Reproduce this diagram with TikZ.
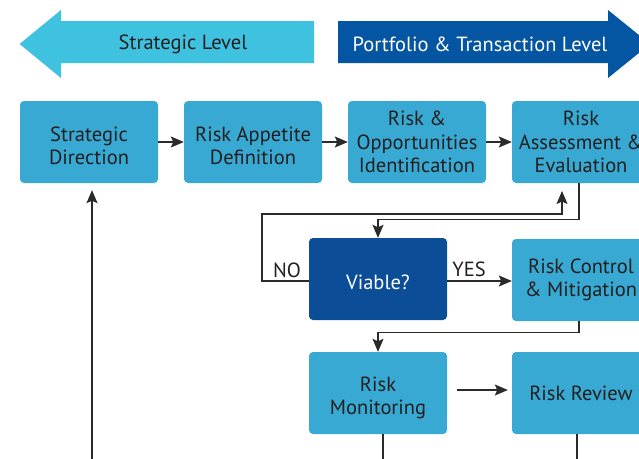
\documentclass[tikz,border=0pt]{standalone}
\usepackage{fontspec}
\setmainfont{PT Sans}
\usetikzlibrary{arrows.meta}
\definecolor{boxblue}{HTML}{38A9D3}
\definecolor{lightarrow}{HTML}{3EC2DF}
\definecolor{darkarrow}{HTML}{0455A2}
\definecolor{viablue}{HTML}{0B4D96}
\definecolor{txt}{HTML}{231F20}
\definecolor{linec}{HTML}{2A2A2A}
\tikzset{
  procbox/.style={fill=boxblue, rounded corners=4pt, minimum width=138pt, minimum height=82pt,
    text=txt, align=center, font=\fontsize{20.5}{23.5}\selectfont, inner sep=0pt},
  viabox/.style={procbox, fill=viablue, text=white},
  boxtext/.style={text=txt, align=center, font=\fontsize{20.5}{23.5}\selectfont, inner sep=0pt},
  arr/.style={draw=linec, line width=1.2pt, -{Stealth[length=13pt,width=11pt,inset=2.5pt]}},
  plainline/.style={draw=linec, line width=1.2pt},
  lbl/.style={text=txt, font=\fontsize{20.5}{23.5}\selectfont, inner sep=0pt},
}
\begin{document}
\begin{tikzpicture}[x=1pt,y=-1pt]
\useasboundingbox (0,0) rectangle (639,458);
\clip (0,0) rectangle (639,458);
\fill[white] (0,0) rectangle (639,458);
% top level arrows
\fill[lightarrow] (19.6,44) -- (61,10) -- (61,21) -- (314,21) -- (314,63) -- (61,63) -- (61,78) -- cycle;
\fill[darkarrow] (338,21) -- (608,21) -- (608,10) -- (650,44) -- (608,78) -- (608,63) -- (338,63) -- cycle;
\node[lbl] (strat) at (183,44) {Strategic Level};
\node[lbl, text=white] (port) at (480,44) {Portfolio \& Transaction Level};
% boxes
\node[procbox] (sd) at (89,142) {};
\node[boxtext] (sdt) at ([yshift=-4pt]sd.center) {Strategic\\Direction};
\node[procbox] (ra) at (253,142) {};
\node[boxtext] (rat) at ([yshift=-4pt]ra.center) {Risk Appetite\\Definition};
\node[procbox] (ro) at (417,142) {Risk \&\\Opportunities\\Identification};
\node[procbox] (rae) at (581,142) {Risk\\Assessment \&\\Evaluation};
\node[viabox] (via) at (378,279) {};
\node[boxtext, text=white] (viat) at ([yshift=-3pt]via.center) {Viable?};
\node[procbox] (rcm) at (581,280) {Risk Control\\\& Mitigation};
\node[procbox] (rm) at (378,393) {};
\node[boxtext] (rmt) at ([yshift=-5pt]rm.center) {Risk\\Monitoring};
\node[procbox] (rr) at (581,393) {Risk Review};
% connectors
\draw[arr] (sd) -- (ra);
\draw[arr] (ra) -- (ro);
\draw[arr] (ro) -- (rae);
\coordinate (fbtip) at (562,191);
\coordinate (fbleft) at (262,214);
\draw[arr] ([yshift=-2pt]via.west) -| (fbleft) -| (fbtip);
\draw[arr] ([xshift=-2pt]rae.south) |- ([yshift=18pt]via.north) -- (via.north);
\draw[arr] ([yshift=-2pt]via.east) -- ([yshift=-2pt]via.east -| rcm.west);
\draw[arr] ([xshift=-2pt]rcm.south) |- ([yshift=19pt]rm.north) -- (rm.north);
\draw[arr] ([xshift=10pt,yshift=3pt]rm.east) -- ([xshift=-4pt,yshift=3pt]rr.west);
\coordinate (rmout) at (383,470);
\coordinate (rrout) at (577,470);
\draw[plainline] ([xshift=5pt]rm.south) -- (rmout);
\draw[plainline] ([xshift=-4pt]rr.south) -- (rrout);
\coordinate (sdin) at (92,470);
\draw[arr] (sdin) -- ([xshift=3pt,yshift=-7pt]sd.south);
% labels
\node[lbl] (no) at (287,270) {NO};
\node[lbl] (yes) at (469,269) {YES};
\end{tikzpicture}
\end{document}
